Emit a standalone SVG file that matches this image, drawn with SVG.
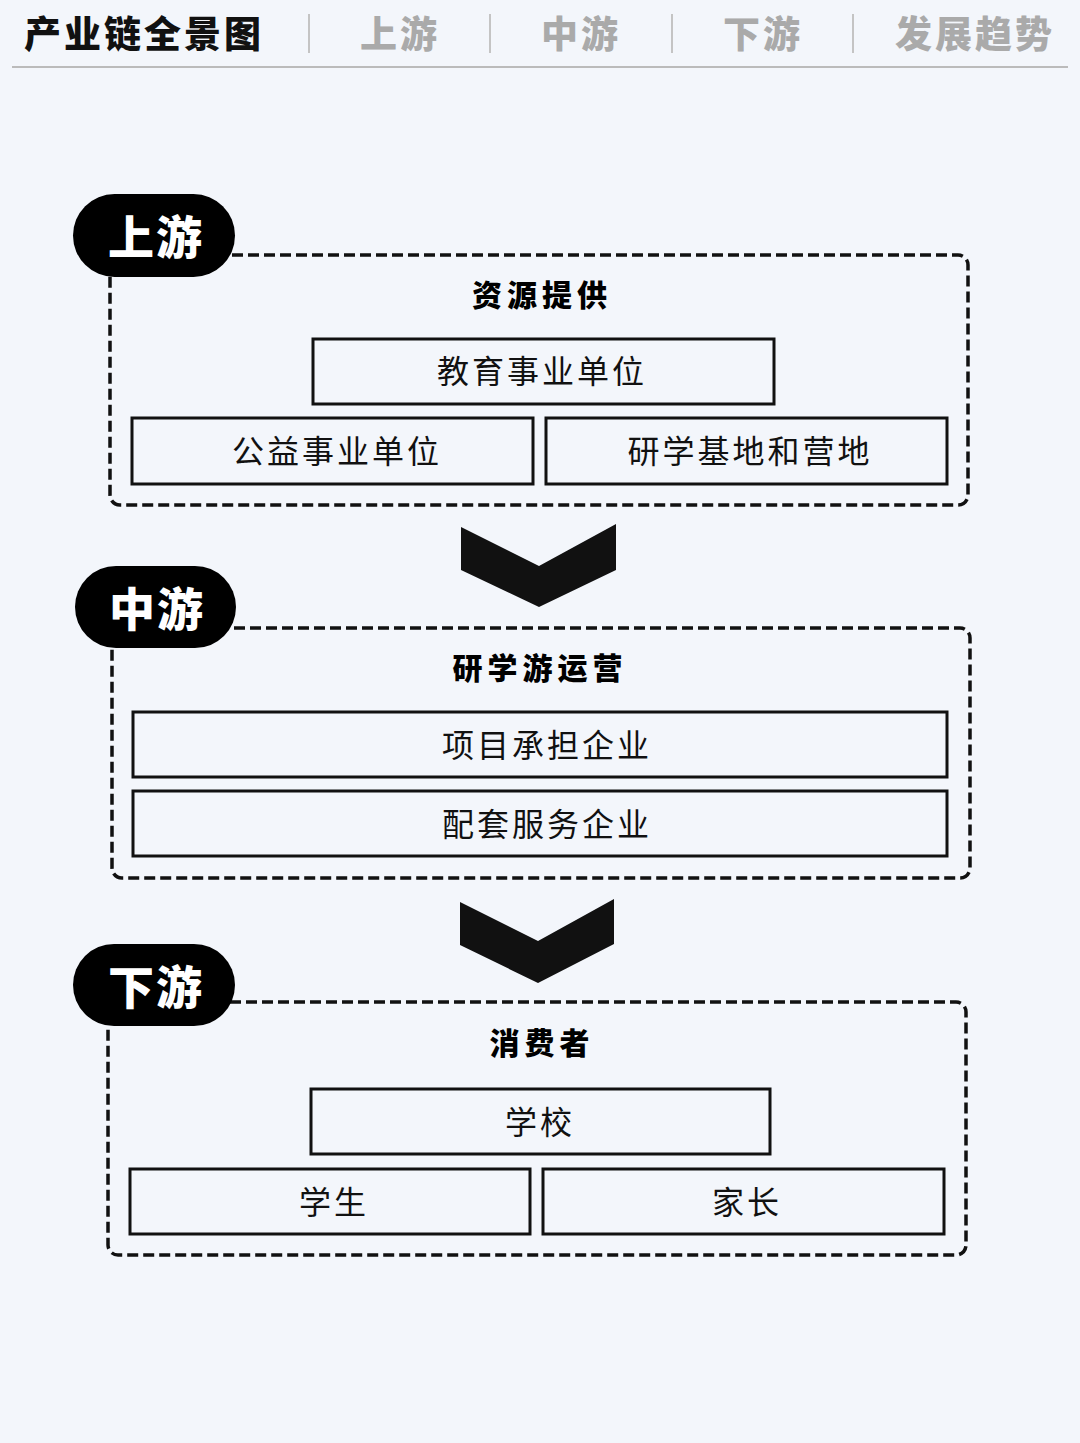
<svg xmlns="http://www.w3.org/2000/svg" width="1080" height="1443" viewBox="0 0 1080 1443">
<style>
text{font-family:"Noto Sans CJK SC","Noto Sans",sans-serif}
.h{font-size:37px;font-weight:900;letter-spacing:3px}
.g{fill:#aaaaaa}
.sep{stroke:#c4c4c4;stroke-width:2}
.cont{fill:none;stroke:#111;stroke-width:3.5;stroke-dasharray:11 5}
.pill{fill:#000}
.pt{fill:#fff;font-size:46px;font-weight:900;text-anchor:middle;letter-spacing:2px}
.tt{font-size:30px;font-weight:900;text-anchor:middle;letter-spacing:5px}
.box{fill:none;stroke:#111;stroke-width:3}
.bt{font-size:32px;text-anchor:middle;fill:#111;letter-spacing:3px}
</style>
<rect width="1080" height="1443" fill="#f3f6fb"/>
<g id="header">
<text x="24" y="48" class="h" fill="#111">产业链全景图</text>
<line x1="309" y1="14" x2="309" y2="53" class="sep"/>
<text x="360" y="48" class="h g">上游</text>
<line x1="490" y1="14" x2="490" y2="53" class="sep"/>
<text x="541" y="48" class="h g">中游</text>
<line x1="672" y1="14" x2="672" y2="53" class="sep"/>
<text x="723" y="48" class="h g">下游</text>
<line x1="853" y1="14" x2="853" y2="53" class="sep"/>
<text x="895" y="48" class="h g">发展趋势</text>
<line x1="12" y1="67" x2="1068" y2="67" stroke="#bbb" stroke-width="2"/>
</g>
<g id="upstream">
<rect x="110" y="255" width="858" height="250" rx="10" class="cont"/>
<rect x="73" y="194" width="162" height="83" rx="41.5" class="pill"/>
<text x="156" y="254" class="pt">上游</text>
<text x="542" y="306" class="tt">资源提供</text>
<rect x="313" y="339" width="461" height="65" class="box"/><text x="542" y="383" class="bt">教育事业单位</text>
<rect x="132" y="418" width="401" height="66" class="box"/><text x="337" y="463" class="bt">公益事业单位</text>
<rect x="546" y="418" width="401" height="66" class="box"/><text x="750" y="463" class="bt">研学基地和营地</text>
</g>
<g id="midstream">
<rect x="112" y="628" width="858" height="250" rx="10" class="cont"/>
<rect x="75" y="566" width="161" height="82" rx="41" class="pill"/>
<text x="157" y="626" class="pt">中游</text>
<text x="540" y="679" class="tt">研学游运营</text>
<rect x="133" y="712" width="814" height="65" class="box"/><text x="547" y="757" class="bt">项目承担企业</text>
<rect x="133" y="791" width="814" height="65" class="box"/><text x="547" y="836" class="bt">配套服务企业</text>
</g>
<g id="downstream">
<rect x="108" y="1002" width="858" height="253" rx="10" class="cont"/>
<rect x="73" y="944" width="162" height="82" rx="41" class="pill"/>
<text x="156" y="1004" class="pt">下游</text>
<text x="542" y="1054" class="tt">消费者</text>
<rect x="311" y="1089" width="459" height="65" class="box"/><text x="540" y="1134" class="bt">学校</text>
<rect x="130" y="1169" width="400" height="65" class="box"/><text x="334" y="1214" class="bt">学生</text>
<rect x="543" y="1169" width="401" height="65" class="box"/><text x="747" y="1214" class="bt">家长</text>
</g>
<g id="connectors" fill="#111">
<polygon points="461,527 539,566 616,524 616,570 539,607 461,570"/>
<polygon points="460,902 538,941 614,899 614,944 538,983 460,945"/>
</g>
</svg>
